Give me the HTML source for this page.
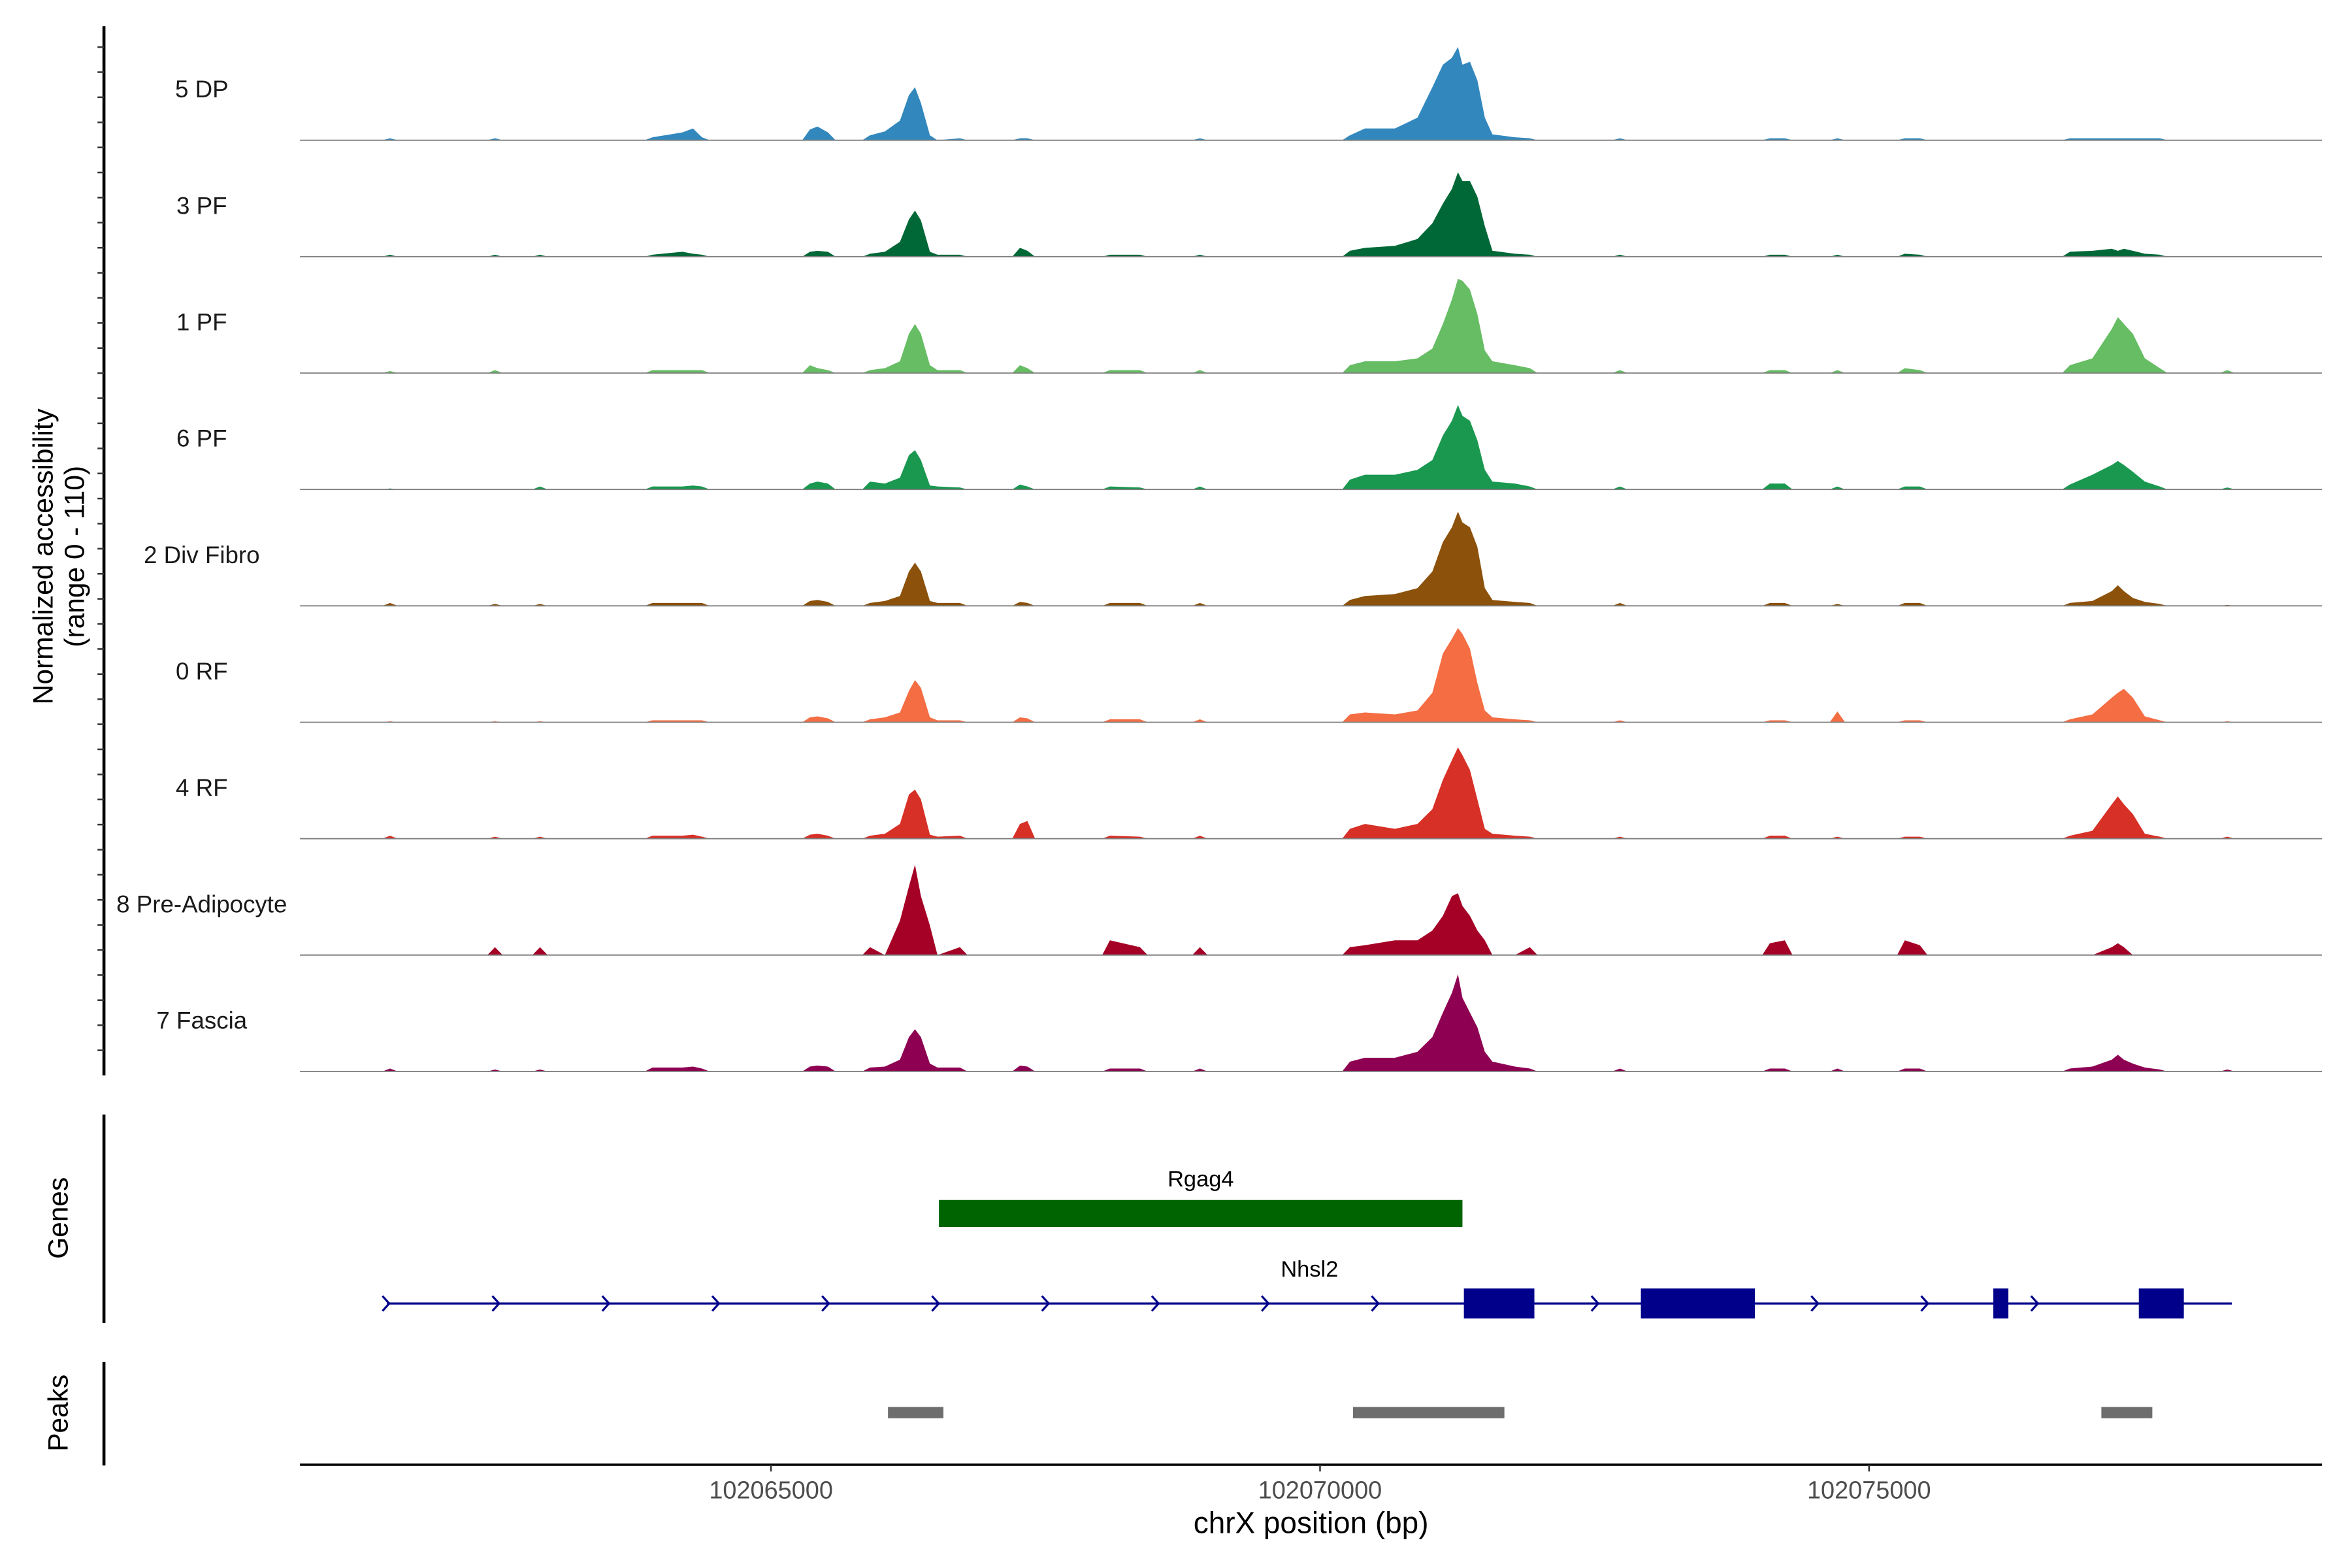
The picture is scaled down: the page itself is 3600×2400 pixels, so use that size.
<!DOCTYPE html>
<html><head><meta charset="utf-8"><style>
html,body{margin:0;padding:0;background:#fff;}
svg{display:block;font-family:"Liberation Sans",Arial,sans-serif;}
</style></head><body>
<svg id="chart" xmlns="http://www.w3.org/2000/svg" width="3600" height="2400" viewBox="0 0 1568 1045.33">
<rect x="0" y="0" width="1568" height="1045.33" fill="#fff"/>
<g id="tracks"></g>
<g id="yaxis"></g>
<text transform="translate(35,371) rotate(-90)" text-anchor="middle" font-size="18.5" fill="#000">Normalized accessibility</text>
<text transform="translate(56,371) rotate(-90)" text-anchor="middle" font-size="18.5" fill="#000">(range 0 - 110)</text>
<g id="genes"></g>
<g id="peaks"></g>
<g id="xaxis"></g>
<text x="874" y="1022" text-anchor="middle" font-size="20" fill="#000">chrX position (bp)</text>
</svg>
<script>
const positions = [102061530,102062486,102062896,102063920,102064193,102064289,102064371,102065354,102065423,102065518,
102065901,102066037,102066174,102066256,102066311,102066365,102066447,102066516,102066720,102067267,
102067335,102068086,102068360,102068906,102070272,102070409,102070682,102070887,102071023,102071119,
102071201,102071256,102071297,102071365,102071433,102071501,102071570,102071775,102071911,102072731,
102074097,102074233,102074712,102075326,102075463,102076829,102077034,102077211,102077266,102077321,
102077403,102077512,102077648,102078263];
const trackNames = ["5 DP","3 PF","1 PF","6 PF","2 Div Fibro","0 RF","4 RF","8 Pre-Adipocyte","7 Fascia"];
const trackColors = ["#3288bd","#006837","#66bd63","#1a9850","#8c510a","#f46d43","#d73027","#a50026","#8e0152"];
const vals5DP = [2,2,0,3,8,12,3,11,14,8, 5,9,20,46,54,38,5,0,2,2, 2,0,0,2,5,12,12,23,54,77, 84,95,77,80,61,23,6,3,2,2, 2,2,2,2,2,2,2,2,2,2, 2,2,2,0];
const vals3PF = [2,2,2,2,5,3,2,5,6,5, 3,5,15,38,47,37,5,2,2,9, 6,2,2,2,6,9,11,18,34,54, 69,86,77,77,61,31,6,3,2,2, 2,2,2,3,2,5,6,8,6,8, 6,3,2,0];
const vals1PF = [2,3,0,3,3,3,3,8,5,3, 3,5,12,40,50,40,8,3,3,8, 5,3,3,3,8,12,12,15,25,50, 75,96,94,85,60,23,12,8,5,3, 3,3,3,5,3,8,15,45,57,50, 40,15,5,3];
const vals6PF = [1,0,3,3,3,4,3,6,8,6, 8,6,12,35,40,30,4,3,2,5, 3,3,2,3,10,15,15,20,30,55, 70,86,75,70,50,20,8,6,3,3, 6,6,3,3,3,5,15,25,29,25, 18,8,3,2];
const vals2Div = [3,2,2,3,3,3,3,5,6,4, 3,5,10,35,44,35,5,3,3,4, 3,3,3,3,6,10,12,18,35,65, 80,96,85,80,60,18,6,4,3,3, 3,3,2,3,3,3,5,15,21,15, 8,4,2,1];
const vals0RF = [1,1,1,2,2,2,2,5,6,4, 3,5,10,32,43,35,5,2,2,5, 4,3,3,3,8,10,8,12,30,70, 85,96,90,75,40,12,5,3,2,2, 2,2,11,2,2,3,8,25,30,34, 25,6,2,1];
const vals4RF = [3,2,2,3,3,4,2,4,5,3, 3,5,15,45,50,40,4,2,3,15, 18,3,2,3,10,15,10,15,30,60, 80,93,85,70,40,10,5,3,2,2, 3,3,2,2,2,3,8,35,43,35, 25,5,2,2];
const vals8PreAd = [0,8,8,0,0,0,0,0,0,0, 8,0,35,70,92,60,30,0,8,0, 0,15,8,8,8,10,15,15,25,40, 60,63,50,40,25,15,0,0,8,0, 12,15,0,15,10,0,0,8,12,8, 0,0,0,0];
const vals7Fascia = [3,2,2,4,4,5,3,5,6,5, 4,5,12,35,43,35,8,4,4,6, 5,3,3,3,10,14,14,20,35,60, 80,99,75,60,45,20,10,5,3,3, 3,3,3,3,3,3,5,12,17,12, 8,4,2,2];
const trackValues = [vals5DP,vals3PF,vals1PF,vals6PF,vals2Div,vals0RF,vals4RF,vals8PreAd,vals7Fascia];
const xTicks = [102065000,102070000,102075000];
const geneRgag4 = [102066529,102071297];
const geneNhsl2 = [102061502,102078304];
const nhsl2ExonStarts = [102071310,102072922,102076132,102077457];
const nhsl2ExonEnds = [102071952,102073960,102076269,102077867];
const peakStarts = [102066065,102070300,102077116];
const peakEnds = [102066570,102071679,102077580];

const NS = "http://www.w3.org/2000/svg";
const X0 = 102060710, PX0 = 200, PX1 = 1548, PXPERBP = 0.0732;
function xs(bp){ return PX0 + (bp - X0) * PXPERBP; }
const yMax = 110, trackH = 72, firstBase = 93.5, trackStep = 77.6;
function ys(i, v){ return firstBase + i*trackStep - v/yMax*trackH; }
function mk(tag, attrs, parent){ const e = document.createElementNS(NS, tag); for (const k in attrs) e.setAttribute(k, attrs[k]); parent.appendChild(e); return e; }
const HALF = 70;
const GAP = 300;

const gT = document.getElementById('tracks');
trackNames.forEach((name, i) => {
  const base = firstBase + i*trackStep;
  const vals = trackValues[i];
  let d = "M" + xs(positions[0] - HALF).toFixed(2) + "," + base;
  positions.forEach((p, j) => {
    const prevGap = j > 0 ? p - positions[j-1] : 1e9;
    if (prevGap > GAP) d += " L" + xs(p - HALF).toFixed(2) + "," + base;
    d += " L" + xs(p).toFixed(2) + "," + ys(i, vals[j]).toFixed(2);
    const nextGap = j < positions.length-1 ? positions[j+1] - p : 1e9;
    if (nextGap > GAP) d += " L" + xs(p + HALF).toFixed(2) + "," + base;
  });
  d += " Z";
  const area = mk('path', {d: d, fill: trackColors[i], stroke: 'none'}, gT);
  
  
  const bl = mk('line', {x1: PX0, x2: PX1, y1: base, y2: base, stroke: '#7f7f7f', 'stroke-width': 0.8}, gT);
  
  
  const lab = mk('text', {x: 134.5, y: base - 28.5, 'text-anchor': 'middle', 'font-size': 16, fill: '#1a1a1a'}, gT);
  lab.textContent = name;
  
  
});

const gY = document.getElementById('yaxis');
const ax = mk('line', {x1: 69.3, x2: 69.3, y1: 17.5, y2: 717, stroke: '#000', 'stroke-width': 2}, gY);


for (let y = 31.4; y <= 716; y += 16.72) {
  const t = mk('line', {x1: 65, x2: 69.3, y1: y, y2: y, stroke: '#333', 'stroke-width': 1.1}, gY);
  
  
}

const gG = document.getElementById('genes');
const gax = mk('line', {x1: 69.3, x2: 69.3, y1: 743, y2: 882, stroke: '#000', 'stroke-width': 2}, gG);


const gt = mk('text', {transform: 'translate(45,812) rotate(-90)', 'text-anchor': 'middle', 'font-size': 18.5, fill: '#000'}, gG);
gt.textContent = 'Genes';


const rg = mk('rect', {x: xs(geneRgag4[0]), y: 800, width: xs(geneRgag4[1]) - xs(geneRgag4[0]), height: 18, fill: '#006400'}, gG);


const rgl = mk('text', {x: (xs(geneRgag4[0]) + xs(geneRgag4[1]))/2, y: 791, 'text-anchor': 'middle', 'font-size': 15, fill: '#000'}, gG);
rgl.textContent = 'Rgag4';


const nl = mk('line', {x1: xs(geneNhsl2[0]), x2: xs(geneNhsl2[1]), y1: 869, y2: 869, stroke: '#00008b', 'stroke-width': 1.4}, gG);


for (let bp = geneNhsl2[0]; bp <= geneNhsl2[1] + 10; bp += 1001) {
  const cx = xs(bp);
  const ch = mk('path', {d: `M${cx-3},${864} L${cx+1.5},${869} L${cx-3},${874}`, fill: 'none', stroke: '#00008b', 'stroke-width': 1.4}, gG);
  
  
}
nhsl2ExonStarts.forEach((s, k) => {
  const ex = mk('rect', {x: xs(s), y: 859, width: xs(nhsl2ExonEnds[k]) - xs(s), height: 20, fill: '#00008b'}, gG);
  
  
});
const nll = mk('text', {x: 873, y: 851, 'text-anchor': 'middle', 'font-size': 15, fill: '#000'}, gG);
nll.textContent = 'Nhsl2';



const gP = document.getElementById('peaks');
const pax = mk('line', {x1: 69.3, x2: 69.3, y1: 908, y2: 977, stroke: '#000', 'stroke-width': 2}, gP);


const pt = mk('text', {transform: 'translate(45,942) rotate(-90)', 'text-anchor': 'middle', 'font-size': 18.5, fill: '#000'}, gP);
pt.textContent = 'Peaks';


peakStarts.forEach((s, k) => {
  const r = mk('rect', {x: xs(s), y: 938, width: xs(peakEnds[k]) - xs(s), height: 7.5, fill: '#6e6e6e'}, gP);
  
  
});

const gX = document.getElementById('xaxis');
const xl = mk('line', {x1: PX0, x2: PX1, y1: 976.5, y2: 976.5, stroke: '#000', 'stroke-width': 1.6}, gX);


xTicks.forEach(t => {
  const tk = mk('line', {x1: xs(t), x2: xs(t), y1: 976.5, y2: 981, stroke: '#333', 'stroke-width': 1.1}, gX);
  
  
  const tl = mk('text', {x: xs(t), y: 999, 'text-anchor': 'middle', 'font-size': 16.5, fill: '#4d4d4d'}, gX);
  tl.textContent = String(t);
  
  
});
</script>
</body></html>
